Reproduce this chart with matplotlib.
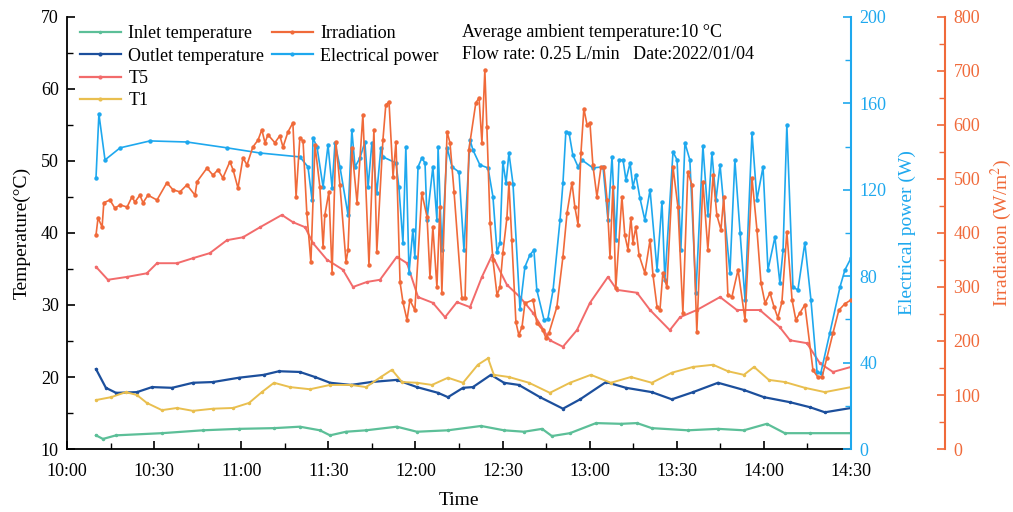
import numpy as np
import matplotlib
matplotlib.use('Agg')
import matplotlib.pyplot as plt
from matplotlib.ticker import MultipleLocator
from matplotlib.lines import Line2D

plt.rcParams['font.family'] = ['Liberation Serif', 'DejaVu Serif']
plt.rcParams['mathtext.fontset'] = 'stix'

# minutes after 10:00
inlet_t = [10.0, 12.4, 16.9, 32.7, 46.8, 59.2, 71.3, 80.2, 87.1, 90.6, 96.1, 103.0, 113.6, 120.5, 131.2,
           142.6, 150.5, 157.4, 163.6, 167.0, 173.2, 182.2, 190.8, 196.3, 201.4, 213.8, 224.2, 233.1,
           241.0, 247.2, 255.9, 270.0]
inlet_v = [11.9, 11.4, 11.9, 12.2, 12.6, 12.8, 12.9, 13.1, 12.6, 11.9, 12.4, 12.6, 13.1, 12.4, 12.6,
           13.2, 12.6, 12.4, 12.8, 11.8, 12.2, 13.6, 13.5, 13.6, 12.9, 12.6, 12.8, 12.6,
           13.5, 12.2, 12.2, 12.2]

outlet_t = [10.0, 13.4, 16.9, 24.1, 29.3, 36.2, 43.4, 50.3, 59.2, 67.8, 73.0, 80.2, 85.4, 90.6, 97.8,
            104.7, 113.6, 120.5, 127.8, 131.2, 136.4, 139.8, 146.0, 150.5, 155.6, 162.9, 170.8, 176.7,
            185.6, 192.5, 201.4, 208.3, 215.6, 224.2, 233.1, 240.0, 249.0, 255.9, 261.0, 270.0]
outlet_v = [21.1, 18.5, 17.8, 17.9, 18.6, 18.5, 19.2, 19.3, 19.9, 20.3, 20.8, 20.7, 20.0, 19.2, 18.9,
            19.3, 19.6, 18.6, 17.8, 17.2, 18.5, 18.6, 20.3, 19.2, 18.9, 17.2, 15.6, 16.9,
            19.3, 18.5, 17.9, 16.9, 17.9, 19.2, 18.2, 17.2, 16.5, 15.8, 15.1, 15.7]

t5_t = [10.0, 14.1, 20.7, 27.5, 31.0, 37.9, 43.4, 49.2, 55.1, 60.6, 66.5, 74.0, 77.8, 82.0, 84.7, 89.5,
        95.0, 98.5, 103.3, 107.8, 113.6, 117.1, 120.9, 126.0, 130.2, 134.3, 138.8, 142.9, 146.4, 151.5,
        156.0, 160.5, 166.3, 170.8, 175.6, 180.1, 186.3, 189.4, 196.3, 200.8, 207.6, 211.1, 216.9,
        224.9, 230.7, 238.6, 245.5, 249.0, 254.8, 259.3, 263.8, 270.0]
t5_v = [35.3, 33.5, 33.9, 34.4, 35.8, 35.8, 36.5, 37.2, 39.0, 39.4, 40.8, 42.5, 41.5, 40.8, 38.6, 36.3,
        34.9, 32.5, 33.2, 33.5, 36.7, 35.8, 31.1, 30.3, 28.3, 30.4, 29.7, 33.9, 36.9, 32.8,
        31.1, 28.9, 25.1, 24.2, 26.5, 30.3, 33.9, 32.1, 31.7, 29.3, 26.5, 28.3, 29.3,
        31.1, 29.3, 29.3, 26.9, 25.1, 24.7, 21.9, 20.7, 21.4]

t1_t = [10.0, 15.2, 20.3, 24.1, 27.5, 32.7, 37.9, 43.4, 50.3, 57.2, 62.7, 67.1, 71.3, 76.8, 83.7, 90.6,
        97.8, 103.0, 108.1, 111.9, 115.4, 120.5, 125.7, 131.2, 136.4, 141.5, 145.0, 147.0, 152.2,
        159.1, 166.3, 173.2, 180.4, 187.3, 194.2, 201.4, 208.3, 215.6, 222.5, 227.6, 233.1, 236.6,
        241.7, 247.2, 254.1, 261.0, 270.0]
t1_v = [16.8, 17.2, 17.9, 17.5, 16.4, 15.4, 15.7, 15.3, 15.6, 15.7, 16.4, 17.9, 19.2, 18.6, 18.3, 18.9,
        18.9, 18.6, 20.0, 21.0, 19.3, 19.2, 18.9, 19.9, 19.2, 21.7, 22.6, 20.3, 20.0,
        19.2, 17.8, 19.2, 20.3, 19.2, 20.0, 19.2, 20.6, 21.4, 21.7, 20.8, 20.3, 21.4,
        19.6, 19.3, 18.5, 17.9, 18.6]

irr_t = [10.0, 10.7, 12.1, 12.7, 14.8, 16.5, 18.3, 20.7, 22.4, 23.4, 25.1, 26.2, 27.9, 31.0, 34.4, 36.5,
         38.9, 41.3, 44.1, 44.8, 48.2, 50.3, 52.0, 53.7, 56.1, 57.2, 58.9, 60.6, 62.0, 64.0, 65.8, 67.1,
         68.2, 69.2, 71.6, 73.3, 74.4, 76.1, 77.8, 78.9, 80.2, 81.3, 82.6, 84.0, 85.4, 87.1, 88.2, 88.8,
         90.2, 91.3, 92.6, 94.0, 96.1, 96.8, 98.1, 99.9, 101.9, 104.0, 105.7, 106.7, 108.8, 109.8, 110.9,
         112.3, 113.3, 114.7, 115.7, 117.1, 118.1, 119.8, 122.2, 124.0, 125.0, 126.0, 127.4, 128.4, 129.1,
         130.9, 131.9, 133.3, 136.0, 137.1, 138.4, 140.8, 141.9, 142.9, 143.9, 144.6, 145.7, 146.7, 148.1,
         149.1, 150.1, 151.5, 152.2, 153.2, 154.6, 155.6, 156.7, 157.7, 160.5, 161.8, 163.9, 164.9, 166.0,
         168.7, 170.8, 172.2, 173.9, 174.9, 176.0, 177.0, 178.0, 179.1, 180.1, 181.1, 182.5, 183.9, 184.9,
         186.0, 187.0, 188.0, 189.0, 191.1, 192.1, 193.2, 194.2, 194.9, 195.9, 197.0, 199.0, 200.8, 201.8,
         203.2, 204.2, 205.2, 206.6, 208.7, 210.4, 212.1, 213.8, 215.2, 216.9, 219.0, 220.7, 222.5, 223.8,
         225.2, 226.2, 227.6, 229.0, 231.1, 233.5, 235.9, 237.6, 239.0, 240.4, 242.1, 243.5, 244.8, 246.2,
         247.9, 249.7, 251.0, 252.4, 254.1, 256.9, 258.6, 260.0, 261.7, 263.8, 265.8, 267.9, 270.0]
irr_v = [396, 428, 411, 456, 461, 446, 452, 448, 467, 457, 470, 456, 470, 461, 493, 480,
         476, 489, 470, 495, 520, 507, 517, 502, 532, 517, 483, 539, 526, 559, 572, 591,
         567, 582, 567, 580, 559, 587, 604, 467, 576, 570, 437, 346, 563, 485, 374, 433,
         476, 326, 569, 489, 346, 369, 558, 456, 619, 341, 591, 365, 572, 637, 643,
         504, 569, 309, 272, 239, 276, 257, 474, 430, 319, 411, 300, 448, 289,
         587, 567, 476, 280, 280, 554, 641, 650, 567, 702, 596, 419, 350, 285,
         300, 363, 428, 493, 387, 235, 211, 226, 270, 276, 233, 220, 206, 215,
         263, 356, 437, 493, 448, 415, 548, 630, 600, 604, 526, 467, 522, 522,
         461, 356, 485, 298, 467, 396, 369, 428, 382, 411, 359, 326, 387, 322,
         263, 257, 326, 300, 522, 448, 252, 513, 489, 217, 495, 369, 507, 433,
         406, 467, 285, 282, 332, 239, 502, 406, 307, 270, 289, 263, 243, 272,
         402, 276, 239, 252, 267, 146, 133, 133, 169, 215, 257, 269, 276]

power_t = [10.0, 11.0, 13.1, 18.3, 28.6, 41.3, 55.1, 66.5, 80.2, 83.0, 84.4, 84.7, 86.1, 88.2, 89.9, 91.3,
           92.3, 94.0, 96.8, 98.1, 99.2, 100.9, 102.6, 103.7, 105.0, 106.7, 108.1, 108.8, 113.3, 114.3,
           115.7, 116.7, 117.8, 119.1, 119.8, 120.9, 122.2, 123.3, 124.0, 126.0, 127.4, 127.8, 129.1,
           130.9, 132.6, 135.0, 136.7, 138.8, 139.8, 142.2, 145.0, 146.7, 148.1, 149.1, 150.1, 151.2,
           152.2, 153.6, 156.0, 157.7, 159.4, 160.8, 161.8, 164.3, 165.6, 167.4, 169.8, 170.8, 171.8,
           172.9, 174.2, 176.0, 177.3, 181.1, 184.6, 186.3, 187.7, 189.0, 190.1, 191.5, 192.5, 193.9,
           194.9, 195.9, 197.3, 199.0, 200.8, 203.2, 204.9, 205.9, 208.7, 210.1, 211.4, 212.8, 214.5,
           216.6, 219.0, 220.7, 222.1, 223.5, 224.9, 228.3, 230.0, 231.8, 233.5, 235.9, 237.6, 239.7,
           241.4, 243.8, 245.5, 246.6, 247.9, 250.0, 251.7, 254.1, 256.2, 258.3, 259.6, 262.7, 266.2,
           267.9, 270.0]
power_v = [125.5, 155.1, 133.8, 139.4, 142.6, 142.1, 139.4, 137.0, 135.2, 130.6, 115.3, 144.0, 139.8,
           121.3, 140.7, 120.8, 141.7, 130.6, 108.3, 147.7, 130.6, 134.7, 142.1, 121.3, 141.7, 118.5,
           139.4, 135.2, 132.4, 121.3, 95.4, 139.8, 81.5, 101.4, 88.9, 130.6, 134.7, 132.4, 106.0,
           130.6, 106.0, 139.8, 92.1, 139.4, 130.6, 128.2, 92.1, 143.1, 138.4, 131.5, 130.1, 116.7,
           91.2, 95.4, 132.9, 123.1, 137.0, 122.7, 64.8, 84.3, 89.8, 92.1, 73.6, 59.7, 60.2, 73.6,
           106.0, 123.1, 146.8, 146.3, 136.1, 130.6, 133.8, 130.1, 130.6, 106.0, 135.2, 96.8, 133.8,
           133.8, 124.5, 132.4, 121.3, 126.9, 116.2, 106.0, 119.9, 82.9, 114.4, 78.2, 137.5, 133.8,
           92.1, 141.7, 133.8, 72.2, 140.3, 108.3, 137.0, 115.3, 131.5, 81.5, 133.8, 100.0, 69.0,
           146.3, 115.3, 130.6, 82.9, 98.1, 76.9, 92.1, 150.0, 75.0, 73.6, 95.4, 69.0, 35.6, 35.2,
           53.7, 75.0, 82.9, 88.4]

tick_pos = [0, 30, 60, 90, 120, 150, 180, 210, 240, 270]
tick_lbl = ['10:00', '10:30', '11:00', '11:30', '12:00', '12:30', '13:00', '13:30', '14:00', '14:30']

c_inlet = '#5cbf98'
c_outlet = '#1c4f9c'
c_t5 = '#f26b6b'
c_t1 = '#e9bf4f'
c_irr = '#f06a3a'
c_pow = '#1ea8ee'

fig = plt.figure(figsize=(10.13, 5.12), dpi=100)
ax = fig.add_axes([0.0661, 0.123, 0.774, 0.844])
ax2 = ax.twinx()
ax3 = ax.twinx()
ax3.spines['right'].set_position(('axes', 1.12))

ms = 2.2
ax.plot(inlet_t, inlet_v, color=c_inlet, lw=1.6, marker='o', ms=1.5)
ax.plot(outlet_t, outlet_v, color=c_outlet, lw=1.6, marker='o', ms=1.5)
ax.plot(t5_t, t5_v, color=c_t5, lw=1.4, marker='o', ms=1.5)
ax.plot(t1_t, t1_v, color=c_t1, lw=1.4, marker='o', ms=1.5)
ax2.plot(power_t, power_v, color=c_pow, lw=1.2, marker='o', ms=ms)
ax3.plot(irr_t, irr_v, color=c_irr, lw=1.2, marker='o', ms=ms)

ax.set_xlim(0, 270)
ax.set_ylim(10, 70)
ax2.set_ylim(0, 200)
ax3.set_ylim(0, 800)

ax.set_xticks(tick_pos)
ax.set_xticklabels(tick_lbl)
ax.xaxis.set_minor_locator(MultipleLocator(15))
ax.yaxis.set_major_locator(MultipleLocator(10))
ax.yaxis.set_minor_locator(MultipleLocator(5))
ax2.yaxis.set_major_locator(MultipleLocator(40))
ax2.yaxis.set_minor_locator(MultipleLocator(20))
ax3.yaxis.set_major_locator(MultipleLocator(100))
ax3.yaxis.set_minor_locator(MultipleLocator(50))

fs = 13
ax.tick_params(axis='both', which='major', direction='in', length=6, width=1.2, labelsize=fs)
ax.tick_params(axis='both', which='minor', direction='in', length=4, width=1.0)
ax.tick_params(axis='x', which='major', pad=10)
ax.tick_params(axis='y', right=False, pad=6)
ax2.tick_params(axis='y', which='major', direction='in', length=6, width=1.2, colors=c_pow, labelsize=fs, pad=6)
ax2.tick_params(axis='y', which='minor', direction='in', length=4, width=1.0, colors=c_pow)
ax3.tick_params(axis='y', which='major', direction='in', length=6, width=1.2, colors=c_irr, labelsize=fs, pad=6)
ax3.tick_params(axis='y', which='minor', direction='in', length=4, width=1.0, colors=c_irr)

for a in (ax, ax2, ax3):
    a.spines['top'].set_visible(False)
ax.spines['left'].set_linewidth(1.3)
ax.spines['bottom'].set_linewidth(1.3)
ax.spines['right'].set_visible(False)
ax2.spines['right'].set_color(c_pow)
ax2.spines['right'].set_linewidth(1.5)
ax3.spines['right'].set_color(c_irr)
ax3.spines['right'].set_linewidth(1.5)
for s in ('left', 'bottom'):
    ax2.spines[s].set_visible(False)
    ax3.spines[s].set_visible(False)

ax.set_xlabel('Time', fontsize=fs + 1, labelpad=9)
ax.set_ylabel('Temperature(°C)', fontsize=fs + 1, labelpad=7)
ax2.set_ylabel('Electrical power (W)', fontsize=fs + 1, color=c_pow, labelpad=9)
ax3.set_ylabel('Irradiation (W/m$^2$)', fontsize=fs + 1, color=c_irr, labelpad=6)

def h(c, m):
    return Line2D([], [], color=c, lw=1.6, marker='o', ms=m)

leg_kw = dict(loc='upper left', frameon=False, fontsize=fs, handlelength=2.3,
              handletextpad=0.4, labelspacing=0.3, borderaxespad=0.3)
leg1 = ax3.legend([h(c_inlet, 1.5), h(c_outlet, 2), h(c_t5, 2), h(c_t1, 2)],
                  ['Inlet temperature', 'Outlet temperature', 'T5', 'T1'],
                  bbox_to_anchor=(0.0, 1.01), **leg_kw)
ax3.add_artist(leg1)
ax3.legend([h(c_irr, 2), h(c_pow, 2)], ['Irradiation', 'Electrical power'],
           bbox_to_anchor=(0.245, 1.01), **leg_kw)

ax3.text(0.504, 0.965, 'Average ambient temperature:10 °C', transform=ax.transAxes,
         fontsize=fs, va='center', ha='left')
ax3.text(0.504, 0.912, 'Flow rate: 0.25 L/min   Date:2022/01/04', transform=ax.transAxes,
         fontsize=fs, va='center', ha='left')

fig.savefig('out.png', dpi=100)
